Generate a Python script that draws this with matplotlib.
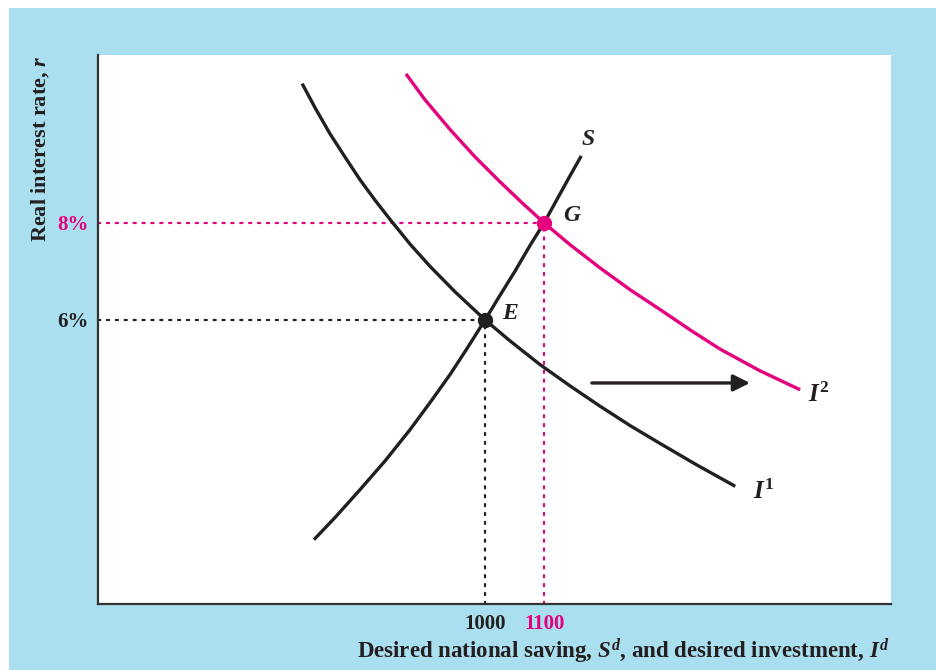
import matplotlib.pyplot as plt
from matplotlib.patches import Rectangle

plt.rcParams['font.family'] = ['Liberation Serif', 'DejaVu Serif']
plt.rcParams['font.weight'] = 'bold'
plt.rcParams['mathtext.fontset'] = 'custom'
plt.rcParams['mathtext.rm'] = 'Liberation Serif:bold'
plt.rcParams['mathtext.it'] = 'Liberation Serif:italic:bold'
plt.rcParams['mathtext.bf'] = 'Liberation Serif:bold'

# curve points (saving/investment, real rate %)
i1_x = [690, 712, 737, 763, 788, 814, 839, 873, 907, 949, 1000, 1042, 1093, 1144, 1195, 1246, 1297, 1356, 1424]
i1_y = [10.87, 10.37, 9.84, 9.35, 8.89, 8.46, 8.07, 7.56, 7.10, 6.58, 6.00, 5.57, 5.08, 4.64, 4.22, 3.82, 3.45, 3.03, 2.57]

i2_x = [866, 898, 941, 983, 1025, 1063, 1100, 1144, 1195, 1246, 1297, 1348, 1398, 1466, 1534]
i2_y = [11.07, 10.54, 9.92, 9.36, 8.85, 8.41, 8.00, 7.55, 7.07, 6.62, 6.21, 5.79, 5.40, 4.95, 4.56]

s_x = [710, 746, 788, 831, 873, 907, 941, 971, 1000, 1025, 1051, 1076, 1100, 1124, 1144, 1163]
s_y = [1.47, 1.93, 2.50, 3.10, 3.74, 4.30, 4.88, 5.44, 6.00, 6.50, 7.01, 7.53, 8.00, 8.53, 8.97, 9.38]

eq_x = [1000, 1100]
eq_y = [6, 8]
eq_names = ['E', 'G']
tick_x_labels = ['1000', '1100']
tick_y_labels = ['6%', '8%']

blue = '#aadff0'
pink = '#e5007d'
ink = '#231f20'

fig = plt.figure(figsize=(9.36, 6.70), dpi=100)
fig.patches.append(Rectangle((9 / 936, 0), 1, 662 / 670, transform=fig.transFigure,
                             facecolor=blue, edgecolor='none', zorder=-10))

ax = fig.add_axes([98 / 936, 66 / 670, 793 / 936, 549 / 670])
ax.set_facecolor('white')
xmin, xmax = 344, 1688
ymin, ymax = 0.144, 11.46
ax.set_xlim(xmin, xmax)
ax.set_ylim(ymin, ymax)
for side in ['top', 'right']:
    ax.spines[side].set_visible(False)
for side in ['left', 'bottom']:
    ax.spines[side].set_color('#333333')
    ax.spines[side].set_linewidth(1.6)

# dotted guides
dots = dict(lw=1.6, ls=(0, (1, 3)), dash_capstyle='round')
ax.plot([xmin, eq_x[0]], [eq_y[0], eq_y[0]], color=ink, **dots)
ax.plot([eq_x[0], eq_x[0]], [ymin, eq_y[0]], color=ink, **dots)
ax.plot([xmin, eq_x[1]], [eq_y[1], eq_y[1]], color=pink, **dots)
ax.plot([eq_x[1], eq_x[1]], [ymin, eq_y[1]], color=pink, **dots)

curve = dict(lw=2.4, solid_capstyle='butt', solid_joinstyle='round')
ax.plot(i1_x, i1_y, color=ink, **curve)
ax.plot(i2_x, i2_y, color=pink, **curve)
ax.plot(s_x, s_y, color=ink, **curve)

ax.plot(eq_x[0], eq_y[0], 'o', color=ink, ms=10, zorder=5)
ax.plot(eq_x[1], eq_y[1], 'o', color=pink, ms=10, zorder=5)

ax.annotate('', xy=(1449, 4.70), xytext=(1181, 4.70),
            arrowprops=dict(arrowstyle='-|>', color=ink, lw=2.4, mutation_scale=25,
                            shrinkA=0, shrinkB=0))

lab = dict(fontsize=17, style='italic', fontweight='bold', color=ink, ha='center', va='center')
ax.text(1175, 9.71, 'S', **lab)
ax.text(1147, 8.16, eq_names[1], **lab)
ax.text(1042, 6.14, eq_names[0], **lab)
ax.text(1472, 2.45, '$I^1$', fontsize=18, color=ink, ha='center', va='center')
ax.text(1565, 4.45, '$I^2$', fontsize=18, color=ink, ha='center', va='center')

ax.set_xticks(eq_x)
ax.set_xticklabels(tick_x_labels)
ax.set_yticks(eq_y)
ax.set_yticklabels(tick_y_labels)
ax.tick_params(length=0, labelsize=15, pad=7)
ax.get_xticklabels()[1].set_color(pink)
ax.get_yticklabels()[1].set_color(pink)
ax.get_xticklabels()[0].set_color(ink)
ax.get_yticklabels()[0].set_color(ink)

fig.text(890 / 936, 1 - 651 / 670, 'Desired national saving, $S^d$, and desired investment, $I^d$',
         fontsize=16.5, color=ink, ha='right', va='center')
fig.text(40 / 936, 1 - 149 / 670, 'Real interest rate, $r$', fontsize=16, color=ink,
         rotation=90, ha='center', va='center')

fig.savefig('out.png', dpi=100, facecolor='white')
